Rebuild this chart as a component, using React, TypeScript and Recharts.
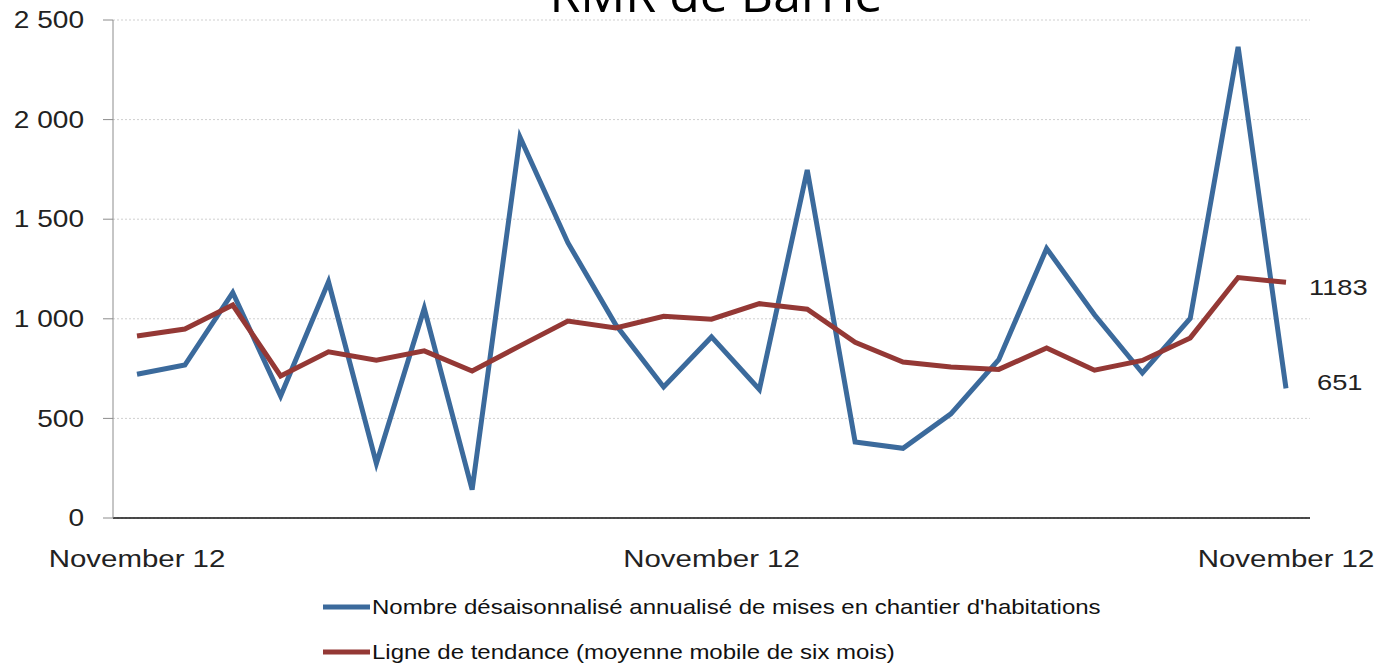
import React from 'react';
import { LineChart, Line, XAxis, YAxis, CartesianGrid, LabelList } from 'recharts';

// mois (nov. 2010 à nov. 2012)
const periodes = [
  '2010-11', '2010-12', '2011-01', '2011-02', '2011-03', '2011-04', '2011-05', '2011-06', '2011-07',
  '2011-08', '2011-09', '2011-10', '2011-11', '2011-12', '2012-01', '2012-02', '2012-03', '2012-04',
  '2012-05', '2012-06', '2012-07', '2012-08', '2012-09', '2012-10', '2012-11',
];

const misesEnChantier = [
  722, 768, 1132, 612, 1186, 274, 1052, 142, 1912, 1382, 970, 658, 909,
  645, 1747, 382, 350, 523, 795, 1353, 1020, 728, 1002, 2365, 651,
];

const tendance = [
  914, 949, 1069, 713, 834, 792, 839, 738, 864, 989, 954, 1013, 998,
  1076, 1048, 882, 783, 758, 746, 854, 742, 791, 904, 1207, 1183,
];

const etiquettesX: Record<string, string> = {
  '2010-11': 'November 12',
  '2011-11': 'November 12',
  '2012-11': 'November 12',
};

const ticksY = [0, 500, 1000, 1500, 2000, 2500];

const titre = 'RMR de Barrie';
const nomSerie1 = "Nombre désaisonnalisé annualisé de mises en chantier d'habitations";
const nomSerie2 = 'Ligne de tendance (moyenne mobile de six mois)';

const BLEU = '#3B6A9C';
const ROUGE = '#943835';
const POLICE = '"Liberation Sans", Arial, sans-serif';

const data = periodes.map((p, i) => ({
  periode: p,
  mises: misesEnChantier[i],
  tendance: tendance[i],
}));

const fmt = (v: number) => (v >= 1000 ? `${Math.floor(v / 1000)} ${String(v % 1000).padStart(3, '0')}` : String(v));

const TickY = (props: any) => {
  const { x, y, payload } = props;
  return (
    <g transform={`translate(${x},${y}) scale(1.22,1)`}>
      <text x={0} y={0} dy="0.36em" textAnchor="end" fontSize={23} fontFamily={POLICE} fill="#222">
        {fmt(payload.value)}
      </text>
    </g>
  );
};

const TickX = (props: any) => {
  const { x, y, payload } = props;
  const label = etiquettesX[payload.value];
  if (!label) return null;
  return (
    <g transform={`translate(${x},${y + 47}) scale(1.28,1)`}>
      <text x={0} y={0} textAnchor="middle" fontSize={23} fontFamily={POLICE} fill="#222">
        {label}
      </text>
    </g>
  );
};

const dernier = periodes.length - 1;

const labelFin = (dx: number, dy: number) => (props: any) => {
  const { x, y, value, index } = props;
  if (index !== dernier) return null;
  return (
    <g transform={`translate(${x + dx},${y + dy}) scale(1.24,1)`}>
      <text x={0} y={0} dy="0.36em" fontSize={22} fontFamily={POLICE} fill="#222">
        {value}
      </text>
    </g>
  );
};

export default function App() {
  return (
    <div style={{ position: 'absolute', left: 0, top: 0, width: 1394, height: 669, background: '#fff' }}>
      <LineChart
        width={1394}
        height={669}
        data={data}
        margin={{ top: 20, right: 84, bottom: 0, left: 0 }}
      >
        <CartesianGrid vertical={false} stroke="#cfcfcf" strokeDasharray="2 2" />
        <XAxis
          dataKey="periode"
          height={151}
          interval={11}
          tick={<TickX />}
          tickLine={false}
          tickSize={0}
          axisLine={{ stroke: '#111', strokeWidth: 1.5 }}
          padding={{ left: 24, right: 24 }}
        />
        <YAxis
          width={113}
          domain={[0, 2500]}
          ticks={ticksY}
          tick={<TickY />}
          tickSize={10}
          tickMargin={19}
          axisLine={{ stroke: '#8c8c8c' }}
          tickLine={{ stroke: '#8c8c8c' }}
        />
        <Line
          dataKey="mises"
          stroke={BLEU}
          strokeWidth={5}
          dot={false}
          strokeLinejoin="miter"
          isAnimationActive={false}
        >
          <LabelList dataKey="mises" content={labelFin(31, -6)} />
        </Line>
        <Line
          dataKey="tendance"
          stroke={ROUGE}
          strokeWidth={5}
          dot={false}
          strokeLinejoin="miter"
          isAnimationActive={false}
        >
          <LabelList dataKey="tendance" content={labelFin(23, 5)} />
        </Line>
      </LineChart>
      <svg
        width={1394}
        height={669}
        style={{ position: 'absolute', left: 0, top: 0, pointerEvents: 'none' }}
      >
        <text x={716} y={12} textAnchor="middle" fontSize={50} fontFamily='"Open Sans", sans-serif' fill="#000">
          {titre}
        </text>
        <line x1={323} x2={370} y1={607} y2={607} stroke={BLEU} strokeWidth={5} />
        <g transform="translate(372,607) scale(1.2,1)">
          <text x={0} y={0} dy="0.36em" fontSize={20} fontFamily={POLICE} fill="#111">
            {nomSerie1}
          </text>
        </g>
        <line x1={323} x2={370} y1={652} y2={652} stroke={ROUGE} strokeWidth={5} />
        <g transform="translate(372,652) scale(1.2,1)">
          <text x={0} y={0} dy="0.36em" fontSize={20} fontFamily={POLICE} fill="#111">
            {nomSerie2}
          </text>
        </g>
      </svg>
    </div>
  );
}
